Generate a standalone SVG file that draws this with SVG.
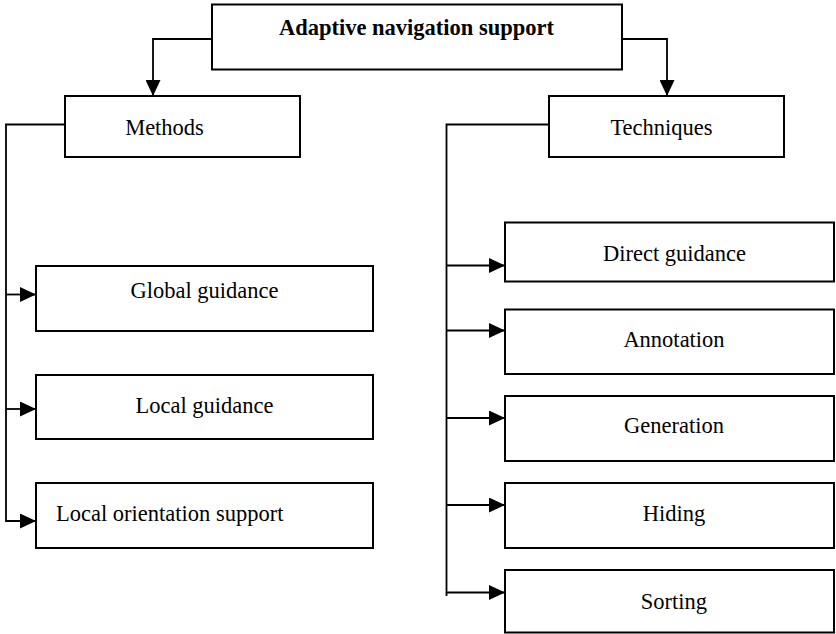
<svg xmlns="http://www.w3.org/2000/svg" width="836" height="634" viewBox="0 0 836 634">
<style>
.box{fill:#fff;stroke:#000;stroke-width:2}
.t{font-family:"Liberation Serif","Times New Roman",serif;font-size:22.5px;fill:#000}
.b{font-weight:bold}
.c{text-anchor:middle}
.ln{fill:none;stroke:#000;stroke-width:1.8}
</style>
<defs>
<marker id="ah" markerUnits="userSpaceOnUse" markerWidth="16" markerHeight="15" refX="16" refY="7.5" orient="auto">
<path d="M0,0 L16,7.5 L0,15 z" fill="#000"/>
</marker>
</defs>
<rect width="836" height="634" fill="#fff"/>
<g id="connectors">
<path class="ln" d="M212,39 H153 V96" marker-end="url(#ah)"/>
<path class="ln" d="M622,39 H667 V96" marker-end="url(#ah)"/>
<path class="ln" d="M65,124.5 H6 V521 H36" marker-end="url(#ah)"/>
<path class="ln" d="M6,294.5 H36" marker-end="url(#ah)"/>
<path class="ln" d="M6,409 H36" marker-end="url(#ah)"/>
<path class="ln" d="M549,124.5 H446.5 V596"/>
<path class="ln" d="M446.5,265.5 H505" marker-end="url(#ah)"/>
<path class="ln" d="M446.5,330.5 H505" marker-end="url(#ah)"/>
<path class="ln" d="M446.5,418 H505" marker-end="url(#ah)"/>
<path class="ln" d="M446.5,505 H505" marker-end="url(#ah)"/>
<path class="ln" d="M446.5,592.5 H505" marker-end="url(#ah)"/>
</g>
<g id="root"><rect class="box" x="212" y="4.5" width="410" height="65"/><text class="t b c" x="416.5" y="35">Adaptive navigation support</text></g>
<g id="methods"><rect class="box" x="65" y="96" width="235" height="61"/><text class="t c" x="164.5" y="135">Methods</text></g>
<g id="techniques"><rect class="box" x="549" y="96" width="235" height="61"/><text class="t c" x="661.5" y="135">Techniques</text></g>
<g id="global"><rect class="box" x="36" y="266" width="337" height="65"/><text class="t c" x="204.5" y="298">Global guidance</text></g>
<g id="local"><rect class="box" x="36" y="375" width="337" height="64"/><text class="t c" x="204.5" y="413">Local guidance</text></g>
<g id="orientation"><rect class="box" x="36" y="483" width="337" height="65"/><text class="t" x="56" y="521">Local orientation support</text></g>
<g id="direct"><rect class="box" x="505" y="222.5" width="329" height="59"/><text class="t c" x="674.5" y="260.5">Direct guidance</text></g>
<g id="annotation"><rect class="box" x="505" y="309.5" width="329" height="64.5"/><text class="t c" x="674" y="346.5">Annotation</text></g>
<g id="generation"><rect class="box" x="505" y="396" width="329" height="65"/><text class="t c" x="674" y="433">Generation</text></g>
<g id="hiding"><rect class="box" x="505" y="483" width="329" height="65"/><text class="t c" x="674" y="520.5">Hiding</text></g>
<g id="sorting"><rect class="box" x="505" y="570" width="329" height="62.5"/><text class="t c" x="674" y="609">Sorting</text></g>
</svg>
